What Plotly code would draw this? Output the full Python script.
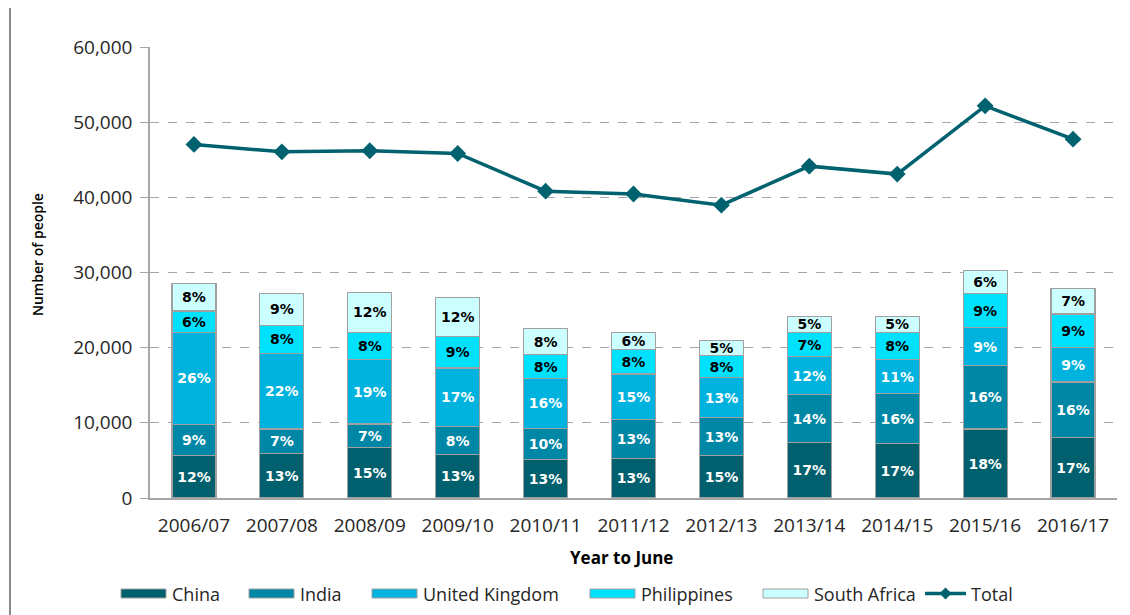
import plotly.graph_objects as go

years = ["2006/07", "2007/08", "2008/09", "2009/10", "2010/11", "2011/12",
         "2012/13", "2013/14", "2014/15", "2015/16", "2016/17"]

china = [5630, 5900, 6690, 5760, 5140, 5230, 5630, 7360, 7220, 9170, 8020]
india = [4120, 3270, 3150, 3730, 4120, 5230, 5100, 6380, 6650, 8430, 7410]
united_kingdom = [12320, 10070, 8600, 7800, 6660, 6030, 5270, 5050, 4570, 5050, 4610]
philippines = [2800, 3760, 3590, 4160, 3140, 3280, 2970, 3190, 3590, 4520, 4430]
south_africa = [3680, 4220, 5320, 5240, 3450, 2260, 2000, 2220, 2170, 3060, 3360]
total = [47040, 46050, 46190, 45830, 40820, 40450, 38960, 44150, 43090, 52170, 47740]

china_pct = [12, 13, 15, 13, 13, 13, 15, 17, 17, 18, 17]
india_pct = [9, 7, 7, 8, 10, 13, 13, 14, 16, 16, 16]
uk_pct = [26, 22, 19, 17, 16, 15, 13, 12, 11, 9, 9]
philippines_pct = [6, 8, 8, 9, 8, 8, 8, 7, 8, 9, 9]
south_africa_pct = [8, 9, 12, 12, 8, 6, 5, 5, 5, 6, 7]

y_ticks = [0, 10000, 20000, 30000, 40000, 50000, 60000]
y_tick_labels = ["0", "10,000", "20,000", "30,000", "40,000", "50,000", "60,000"]

series = [
    ("China", china, china_pct, "#00606E", "white"),
    ("India", india, india_pct, "#0087A6", "white"),
    ("United Kingdom", united_kingdom, uk_pct, "#00B2DE", "white"),
    ("Philippines", philippines, philippines_pct, "#00E0FF", "black"),
    ("South Africa", south_africa, south_africa_pct, "#CCFFFF", "black"),
]

LINE_COLOR = "#00616F"
TEXT_COLOR = "#262626"
OFF = 8  # page body margin
W, H = 1130 - OFF, 615 - OFF
# plot area in page pixels: x 150..1117, y 47..498
L, T = 150 - OFF, 47 - OFF
R = W - (1117 - OFF)
B = H - (498 - OFF)
PW, PH = W - L - R, H - T - B


def px_x(px):
    return (px - OFF - L) / PW


def px_y(py):
    return (T + PH - (py - OFF)) / PH


fig = go.Figure()
for name, vals, pcts, color, tcolor in series:
    fig.add_trace(go.Bar(
        x=years, y=vals, name=name,
        marker=dict(color=color, line=dict(color="#A0A0A0", width=1.2)),
        text=[f"{p}%" for p in pcts],
        textposition="inside", insidetextanchor="middle",
        textangle=0, constraintext="none",
        textfont=dict(family="DejaVu Sans", size=14, color=tcolor, weight="bold"),
        showlegend=False, hoverinfo="skip",
    ))

fig.add_trace(go.Scatter(
    x=years, y=total, name="Total", mode="lines+markers",
    line=dict(color=LINE_COLOR, width=3.5),
    marker=dict(symbol="diamond", size=13, color=LINE_COLOR),
    showlegend=False,
))

shapes = []
annotations = []

# outer frame line at left
shapes.append(dict(type="line", xref="paper", yref="paper",
                   x0=px_x(10), x1=px_x(10), y0=px_y(0), y1=px_y(620),
                   line=dict(color="#8C8C8C", width=2)))

# manual legend
legend_items = [
    ("China", 121, "#00606E"),
    ("India", 249, "#0087A6"),
    ("United Kingdom", 372, "#00B2DE"),
    ("Philippines", 590, "#00E0FF"),
    ("South Africa", 763, "#CCFFFF"),
]
ly = 593.5
for name, x0, color in legend_items:
    shapes.append(dict(type="rect", xref="paper", yref="paper",
                       x0=px_x(x0), x1=px_x(x0 + 45), y0=px_y(ly - 4.5), y1=px_y(ly + 4.5),
                       fillcolor=color, line=dict(color="#A0A0A0", width=1)))
    annotations.append(dict(xref="paper", yref="paper", x=px_x(x0 + 49), y=px_y(ly),
                            xanchor="left", yanchor="middle", showarrow=False, text=name,
                            font=dict(family="Open Sans", size=18, color=TEXT_COLOR)))
# Total legend
shapes.append(dict(type="line", xref="paper", yref="paper",
                   x0=px_x(925), x1=px_x(966), y0=px_y(ly), y1=px_y(ly),
                   line=dict(color=LINE_COLOR, width=3.5)))
shapes.append(dict(type="path", xref="paper", yref="paper",
                   path=("M {a},{b} L {c},{d} L {a},{e} L {f},{d} Z").format(
                       a=px_x(945.5), b=px_y(ly - 6), c=px_x(951.5), d=px_y(ly),
                       e=px_y(ly + 6), f=px_x(939.5)),
                   fillcolor=LINE_COLOR, line=dict(color=LINE_COLOR, width=0)))
annotations.append(dict(xref="paper", yref="paper", x=px_x(969), y=px_y(ly),
                        xanchor="left", yanchor="middle", showarrow=False, text="Total",
                        font=dict(family="Open Sans", size=18, color=TEXT_COLOR)))

# axis titles
annotations.append(dict(xref="paper", yref="paper", x=px_x(37), y=px_y(255),
                        xanchor="center", yanchor="middle", showarrow=False,
                        text="Number of people", textangle=-90,
                        font=dict(family="Open Sans", size=14, color="black", weight=600)))
annotations.append(dict(xref="paper", yref="paper", x=px_x(621), y=px_y(557),
                        xanchor="center", yanchor="middle", showarrow=False,
                        text="<b>Year to June</b>",
                        font=dict(family="Open Sans", size=17, color="black")))

fig.update_layout(
    width=W, height=H,
    margin=dict(l=L, r=R, t=T, b=B, pad=0),
    barmode="stack", bargap=0.5,
    plot_bgcolor="white", paper_bgcolor="white",
    shapes=shapes, annotations=annotations,
    xaxis=dict(
        range=[-0.5, len(years) - 0.5],
        showline=True, linecolor="#A6A6A6", linewidth=1.5,
        showgrid=False, ticks="", ticklabelstandoff=9,
        tickfont=dict(family="Open Sans", size=19, color=TEXT_COLOR),
    ),
    yaxis=dict(
        range=[0, 60000], tickvals=y_ticks, ticktext=y_tick_labels,
        showline=True, linecolor="#A6A6A6", linewidth=1.5,
        ticks="outside", ticklen=8, tickcolor="#A6A6A6", tickwidth=1,
        ticklabelstandoff=4,
        showgrid=True, gridcolor="#A6A6A6", gridwidth=1, griddash="dash",
        zeroline=False,
        tickfont=dict(family="Open Sans", size=19, color=TEXT_COLOR),
    ),
)

fig.write_html("out.html")
